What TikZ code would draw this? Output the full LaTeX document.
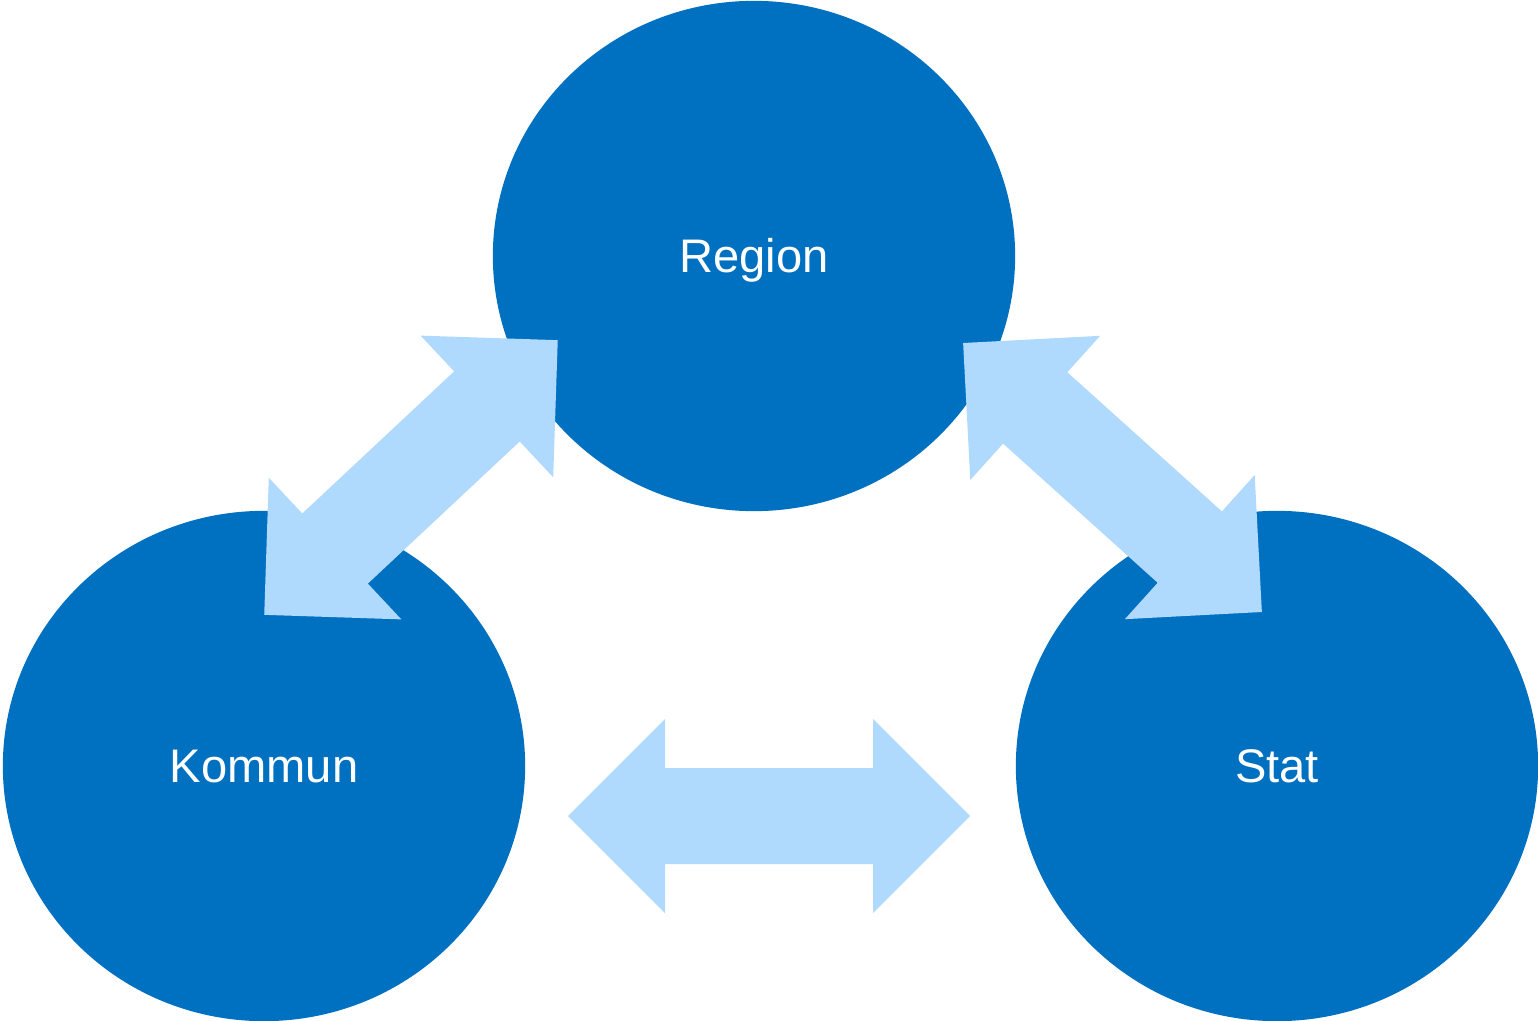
\documentclass[tikz,border=0pt]{standalone}
\usepackage{fontspec}
\setmainfont{Liberation Sans}
\usepackage{tikz}
\usetikzlibrary{shapes}

\begin{document}
\begin{tikzpicture}[x=0.01cm, y=-0.01cm]

  % Define Colors
  \definecolor{ellblue}{HTML}{0070C0}
  \definecolor{arrblue}{HTML}{B0D9FE}

  % Node styles
  \tikzstyle{eblue}=[ellipse, fill=ellblue, inner sep=0pt, minimum width=5.22cm, minimum height=5.10cm, text=white, text height=9.6pt, text depth=0pt, font=\fontsize{13.4}{16}\selectfont]
  \tikzstyle{a_fill}=[fill=arrblue]

  % Arrow shape (length 402, head 194, shaft 96)
  \tikzset{dblarrow/.pic={
    \fill[a_fill] (-201,0) -- (-104,-97) -- (-104,-48) -- (104,-48) -- (104,-97)
      -- (201,0) -- (104,97) -- (104,48) -- (-104,48) -- (-104,97) -- cycle;
  }}

  \useasboundingbox (0,0) rectangle (1538,1021);

  % Nodes
  \node[eblue] (n_region) at (754,256) {Region};
  \node[eblue] (n_kommun) at (264,766) {Kommun};
  \node[eblue] (n_stat) at (1277,766) {Stat};

  % Arrows
  \pic[rotate=43.1] (a_kr) at (411,477.5) {dblarrow};
  \pic[rotate=-42] (a_rs) at (1112.5,477.5) {dblarrow};
  \pic (a_ks) at (769,816) {dblarrow};

\end{tikzpicture}
\end{document}
